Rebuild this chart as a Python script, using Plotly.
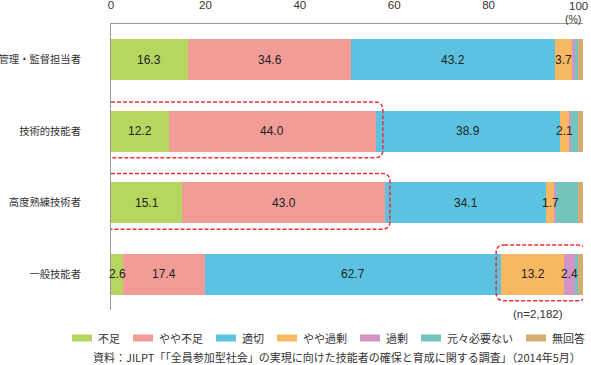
import plotly.graph_objects as go

categories = ["管理・監督担当者", "技術的技能者", "高度熟練技術者", "一般技能者"]
series_names = ["不足", "やや不足", "適切", "やや過剰", "過剰", "元々必要ない", "無回答"]
colors = ["#b6d65f", "#f29c98", "#5bc3e1", "#f8b862", "#d294c4", "#72c4bc", "#d6ad70"]

v_fusoku = [16.3, 12.2, 15.1, 2.6]
v_yaya_fusoku = [34.6, 44.0, 43.0, 17.4]
v_tekisetsu = [43.2, 38.9, 34.1, 62.7]
v_yaya_kajo = [3.7, 2.1, 1.7, 13.2]
v_kajo = [0.4, 0.3, 0.3, 2.4]
v_motomoto = [0.8, 1.5, 4.7, 0.7]
v_mukaito = [1.0, 1.0, 1.1, 1.0]

series_values = [v_fusoku, v_yaya_fusoku, v_tekisetsu, v_yaya_kajo, v_kajo, v_motomoto, v_mukaito]
x_ticks = [0, 20, 40, 60, 80, 100]
x_ticktext = ["0", "20", "40", "60", "80", "100"]

FONT = "Noto Sans CJK JP"
NUMFONT = "Liberation Sans"
TXT = "#333333"
W, H = 591, 365
ML, MR, MT, MB = 111, 8, 24, 55
PW, PH = W - ML - MR, H - MT - MB
ypos = list(range(len(categories)))


def px_x(px):
    return (px - ML) / PW


def px_y(py):
    return (H - MB - py) / PH


fig = go.Figure()
for name, vals, col in zip(series_names, series_values, colors):
    fig.add_trace(go.Bar(
        name=name, y=ypos, x=vals, orientation="h",
        marker=dict(color=col, line=dict(width=0)),
        width=0.57, showlegend=False, hoverinfo="x+name",
    ))

annotations = []
shapes = []

# value labels
for si, (name, vals) in enumerate(zip(series_names, series_values)):
    for ri, v in enumerate(vals):
        show = si <= 3 or (si == 4 and v >= 2)
        if not show:
            continue
        start = sum(series_values[k][ri] for k in range(si))
        annotations.append(dict(
            x=start + v / 2, y=ri, xref="x", yref="y", text=f"{v:.1f}",
            showarrow=False, font=dict(family=NUMFONT, size=12, color="#222222"),
        ))

# last tick label kept inside the page
annotations.append(dict(x=x_ticks[-1], y=px_y(5.5), xref="x", yref="paper", xanchor="center",
                        yanchor="middle", xshift=-5, text=x_ticktext[-1], showarrow=False,
                        font=dict(family=NUMFONT, size=11.5, color=TXT)))
annotations.append(dict(x=100, y=px_y(19.5), xref="x", yref="paper", xanchor="right", yanchor="middle",
                        text="(%)", showarrow=False,
                        font=dict(family=NUMFONT, size=10.5, color=TXT)))


def rounded_rect(x0, x1, y0, y1, rx=1.7, ry=0.11):
    return (f"M {x0+rx},{y0} L {x1-rx},{y0} Q {x1},{y0} {x1},{y0+ry} "
            f"L {x1},{y1-ry} Q {x1},{y1} {x1-rx},{y1} L {x0+rx},{y1} "
            f"Q {x0},{y1} {x0},{y1-ry} L {x0},{y0+ry} Q {x0},{y0} {x0+rx},{y0} Z")


def cum(ri, n):
    return sum(series_values[k][ri] for k in range(n))


hl = [(1, -1.7, cum(1, 2) + 1.4), (2, -1.7, cum(2, 2) + 1.0), (3, cum(3, 3) - 1.1, 100.6)]
for ri, xa, xb in hl:
    shapes.append(dict(type="path", xref="x", yref="y",
                       path=rounded_rect(xa, xb, ri - 0.41, ri + 0.37),
                       line=dict(color="#e8303a", width=1.5, dash="4px,2px"),
                       fillcolor="rgba(0,0,0,0)", layer="above"))

annotations.append(dict(x=(hl[2][1] + hl[2][2]) / 2 - 0.6, y=px_y(314), xref="x", yref="paper",
                        xanchor="center", yanchor="middle",
                        text="(n=2,182)", showarrow=False,
                        font=dict(family=NUMFONT, size=11.5, color=TXT)))
annotations.append(dict(x=1, y=px_y(357), xref="paper", yref="paper", xanchor="right", yanchor="middle",
                        text="資料：JILPT「「全員参加型社会」の実現に向けた技能者の確保と育成に関する調査」（2014年5月）",
                        showarrow=False, font=dict(family=FONT, size=11, color=TXT)))

# legend (patch + label per series)
lx = 72
ly = 338
for name, col in zip(series_names, colors):
    shapes.append(dict(type="rect", xref="paper", yref="paper",
                       x0=px_x(lx), x1=px_x(lx + 20), y0=px_y(ly + 3.5), y1=px_y(ly - 3.5),
                       fillcolor=col, line=dict(width=0)))
    annotations.append(dict(x=px_x(lx + 24), y=px_y(ly), xref="paper", yref="paper",
                            xanchor="left", yanchor="middle", text=name, showarrow=False,
                            font=dict(family=FONT, size=11, color=TXT)))
    lx += 24 + 11 * len(name) + 15

fig.update_layout(
    width=W, height=H,
    margin=dict(l=ML, r=MR, t=MT, b=MB),
    barmode="stack",
    paper_bgcolor="white", plot_bgcolor="white",
    font=dict(family=FONT, size=11, color=TXT),
    showlegend=False,
    xaxis=dict(range=[0, 100], side="top", tickvals=x_ticks[:-1], ticktext=x_ticktext[:-1],
               showgrid=False, zeroline=False,
               showline=True, linecolor="#999999", linewidth=1, ticks="", automargin=False,
               ticklabelstandoff=9, ticklabeloverflow="allow",
               tickfont=dict(family=NUMFONT, size=11.5, color=TXT), fixedrange=True),
    yaxis=dict(range=[3.5, -0.5], tickvals=ypos, ticktext=categories, showgrid=False,
               zeroline=False, showline=True, linecolor="#999999", linewidth=1, ticks="",
               automargin=False, ticklabelstandoff=27,
               tickfont=dict(family=FONT, size=10.3, color=TXT), fixedrange=True),
    annotations=annotations,
    shapes=shapes,
)

fig.write_html("out.html", config={"displayModeBar": False},
               post_script="document.body.style.margin='0';document.body.style.padding='0';")
